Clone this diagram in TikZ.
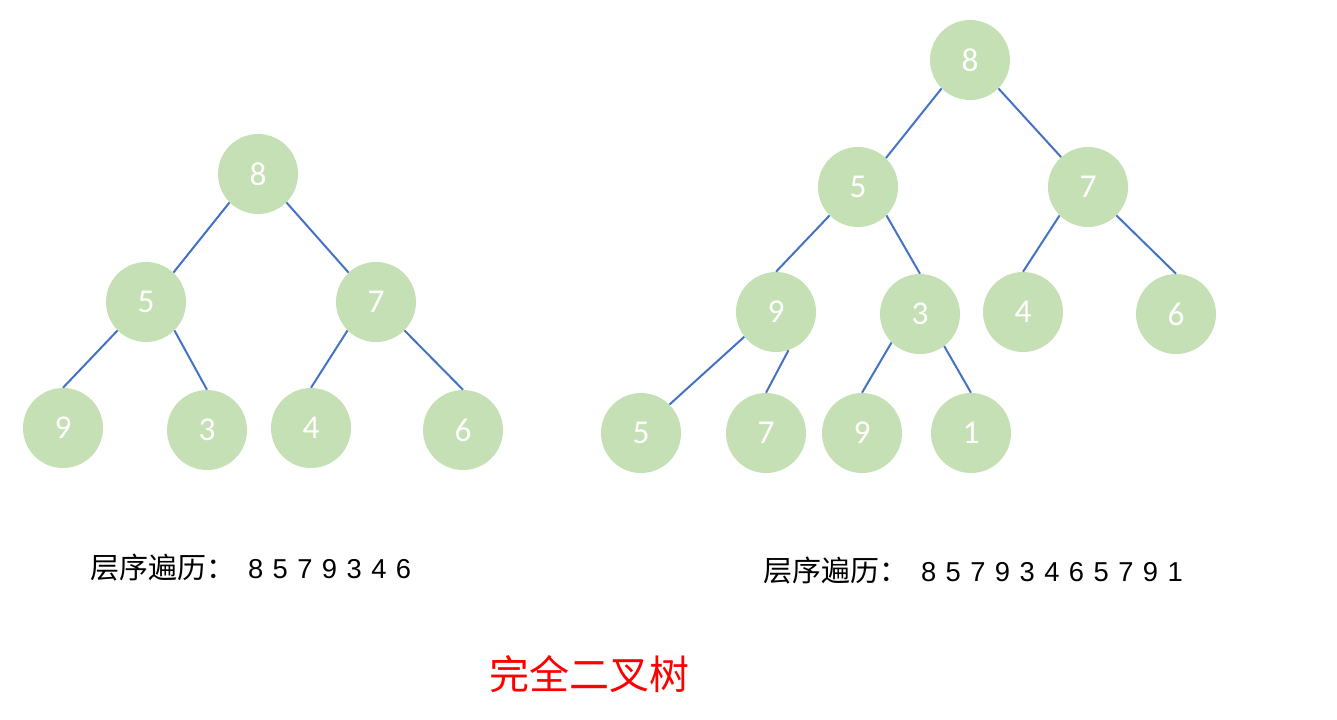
\documentclass[tikz,border=0pt]{standalone}
\usepackage{fontspec}
\setmainfont{Liberation Sans}
\newfontfamily\cjk{Noto Sans CJK SC}
\newfontfamily\numfont{Carlito}
\definecolor{nodegreen}{HTML}{C5E0B4}
\definecolor{edgeblue}{HTML}{4472C4}
\newcommand\dg[1]{\makebox[18.5pt]{#1}}
\tikzset{
  tnode/.style={circle, fill=nodegreen, minimum size=60pt, inner sep=0pt, text=white, font=\numfont\fontsize{25}{25}\selectfont},
  tedge/.style={draw=edgeblue, line width=1.5pt},
  caption/.style={anchor=west, inner sep=0pt, font=\fontsize{20.5}{24}\selectfont},
}
\begin{document}
\begin{tikzpicture}[x=0.75pt, y=-0.75pt]
\useasboundingbox (0,0) rectangle (1337,719);
% left tree
\node[tnode] (l8) at (258,174) {8};
\node[tnode] (l5) at (146,302) {5};
\node[tnode] (l7) at (376,302) {7};
\node[tnode] (l9) at (63,428) {9};
\node[tnode] (l3) at (207,430) {3};
\node[tnode] (l4) at (311,428) {4};
\node[tnode] (l6) at (463,430) {6};
\draw[tedge] (l8.225) -- (l5.47);
\draw[tedge] (l8.315) -- (l7.133);
\draw[tedge] (l5.225) -- (l9.90);
\draw[tedge] (l5.315) -- (l3.90);
\draw[tedge] (l7.225) -- (l4.90);
\draw[tedge] (l7.315) -- (l6.90);
% right tree
\node[tnode] (r8) at (970,60) {8};
\node[tnode] (r5) at (858,187) {5};
\node[tnode] (r7) at (1088,187) {7};
\node[tnode] (r9) at (776,312) {9};
\node[tnode] (r3) at (920,314) {3};
\node[tnode] (r4) at (1023,312) {4};
\node[tnode] (r6) at (1176,314) {6};
\node[tnode] (r5b) at (641,433) {5};
\node[tnode] (r7b) at (766,433) {7};
\node[tnode] (r9b) at (862,433) {9};
\node[tnode] (r1) at (971,433) {1};
\draw[tedge] (r8.225) -- (r5.46);
\draw[tedge] (r8.315) -- (r7.132);
\draw[tedge] (r5.225) -- (r9.90);
\draw[tedge] (r5.315) -- (r3.90);
\draw[tedge] (r7.225) -- (r4.90);
\draw[tedge] (r7.315) -- (r6.90);
\draw[tedge] (r9.218) -- (r5b.45);
\draw[tedge] (r9.-72) -- (r7b.90);
\draw[tedge] (r3.225) -- (r9b.90);
\draw[tedge] (r3.-53) -- (r1.90);
% captions
\node[caption] (capl) at (90,568) {{\cjk\fontsize{21.75}{24}\selectfont 层序遍历：}\hspace{6pt}\dg{8}\dg{5}\dg{7}\dg{9}\dg{3}\dg{4}\dg{6}};
\node[caption] (capr) at (763,571) {{\cjk\fontsize{21.75}{24}\selectfont 层序遍历：}\hspace{6pt}\dg{8}\dg{5}\dg{7}\dg{9}\dg{3}\dg{4}\dg{6}\dg{5}\dg{7}\dg{9}\dg{1}};
\node[text=red, font=\cjk\fontsize{30}{32}\selectfont] (title) at (589,674) {完全二叉树};
\end{tikzpicture}
\end{document}
